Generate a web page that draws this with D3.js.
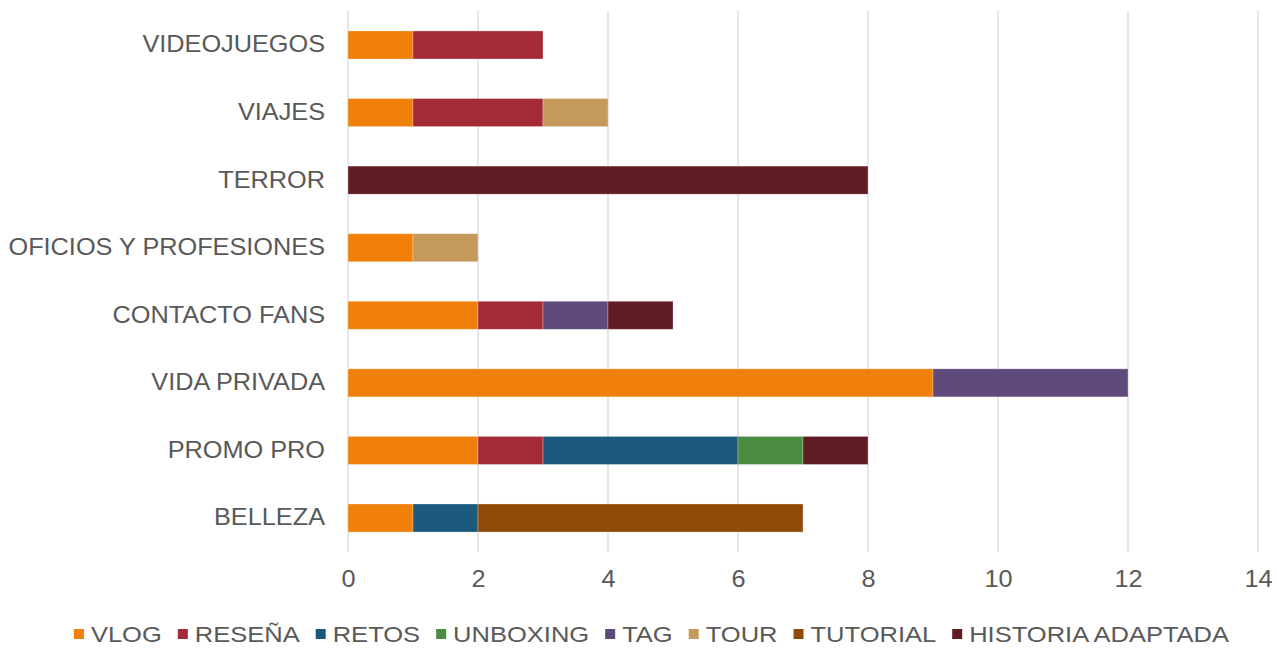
<!DOCTYPE html>
<html><head><meta charset="utf-8">
<script src="https://cdn.jsdelivr.net/npm/d3@7"></script>
<style>body{margin:0;background:#fff;} svg{display:block;font-family:"Liberation Sans",Arial,sans-serif;}</style>
</head><body>
<svg id="c" width="1277" height="648"></svg>
<script>
const categories = ["VIDEOJUEGOS","VIAJES","TERROR","OFICIOS Y PROFESIONES","CONTACTO FANS","VIDA PRIVADA","PROMO PRO","BELLEZA"];
const seriesNames = ["VLOG","RESEÑA","RETOS","UNBOXING","TAG","TOUR","TUTORIAL","HISTORIA ADAPTADA"];
const colors = ["#F0800A","#A32A36","#1C5A7D","#4B8B42","#5F4B7B","#C4995A","#8F4A06","#611B22"];
const VLOG      = [1,1,0,1,2,9,2,1];
const RESENA    = [2,2,0,0,1,0,1,0];
const RETOS     = [0,0,0,0,0,0,3,1];
const UNBOXING  = [0,0,0,0,0,0,1,0];
const TAG       = [0,0,0,0,1,3,0,0];
const TOUR      = [0,1,0,1,0,0,0,0];
const TUTORIAL  = [0,0,0,0,0,0,0,5];
const HISTORIA  = [0,0,8,0,1,0,1,0];
const xTicks = [0,2,4,6,8,10,12,14];

const seriesValues = [VLOG,RESENA,RETOS,UNBOXING,TAG,TOUR,TUTORIAL,HISTORIA];
const rows = categories.map((c,i)=>{const o={cat:c}; seriesNames.forEach((s,j)=>o[s]=seriesValues[j][i]); return o;});
const stack = d3.stack().keys(seriesNames)(rows);

const svg = d3.select("#c");
const x = d3.scaleLinear().domain([0,14]).range([348,1258]);
const y = d3.scaleBand().domain(categories).range([11.2,551.8]).paddingInner(0.585).paddingOuter(0.2925);
const textColor = "#595959";
const sx = 1.1;

// gridlines
svg.append("g").selectAll("line").data(xTicks).join("line")
  .attr("x1",d=>x(d)).attr("x2",d=>x(d)).attr("y1",11).attr("y2",552)
  .attr("stroke","#d9d9d9").attr("stroke-width",1.3);

// bars
svg.append("g").selectAll("g").data(stack).join("g")
  .attr("fill",(d,i)=>colors[i])
  .selectAll("rect").data(d=>d.filter(p=>p[1]-p[0]>0)).join("rect")
  .attr("x",d=>x(d[0])).attr("width",d=>x(d[1])-x(d[0]))
  .attr("y",d=>y(d.data.cat)).attr("height",y.bandwidth())
  .attr("stroke","rgba(255,255,255,0.35)").attr("stroke-width",0.8);

// x axis labels
const xAxis = d3.axisBottom(x).tickValues(xTicks).tickSize(0).tickPadding(0);
const gx = svg.append("g").attr("transform","translate(0,571)").call(xAxis);
gx.select(".domain").remove();
gx.selectAll("text").attr("fill",textColor).attr("font-size",23).attr("font-family","Liberation Sans, Arial, sans-serif").attr("dy","0.71em")
  .attr("transform",`scale(${sx},1)`);

// y axis labels
const yAxis = d3.axisLeft(y).tickSize(0).tickPadding(0);
const gy = svg.append("g").attr("transform","translate(348,0)").call(yAxis);
gy.select(".domain").remove();
gy.selectAll("text").attr("fill",textColor).attr("font-size",23).attr("font-family","Liberation Sans, Arial, sans-serif")
  .attr("x",-23/sx).attr("transform",`scale(${sx},1)`);

// legend
const lsx = 1.16;
const lg = svg.append("g");
const items = lg.selectAll("g").data(seriesNames).join("g");
items.append("rect").attr("width",10).attr("height",10).attr("y",-5).attr("fill",(d,i)=>colors[i]);
items.append("text").text(d=>d).attr("x",17/lsx).attr("dy","0.35em").attr("fill",textColor).attr("font-size",22)
  .attr("transform",`scale(${lsx},1)`);
let widths = [];
items.each(function(){widths.push(17+lsx*this.querySelector("text").getComputedTextLength());});
const gap = 16;
const total = d3.sum(widths)+gap*(widths.length-1);
let cx = 651.5-total/2;
items.attr("transform",(d,i)=>{const t=`translate(${cx},634)`; cx+=widths[i]+gap; return t;});
</script>
</body></html>
